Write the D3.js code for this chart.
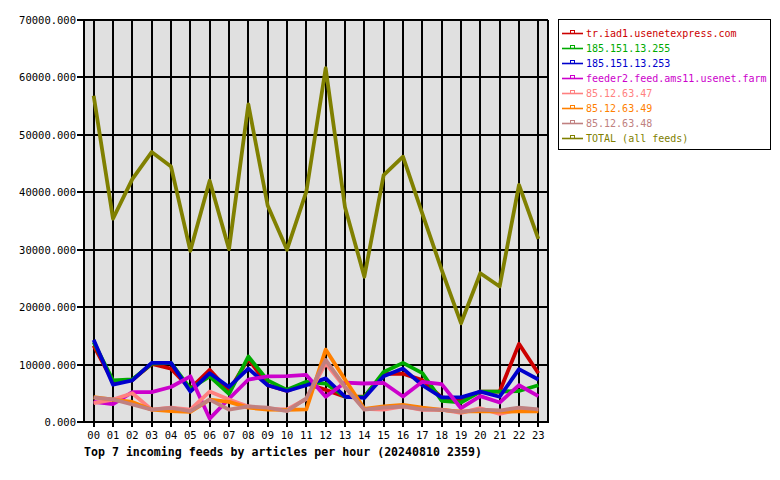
<!DOCTYPE html>
<html><head><meta charset="utf-8">
<script src="https://cdn.jsdelivr.net/npm/d3@7"></script>
<style>
body{margin:0;background:#fff;}
svg text{font-family:"DejaVu Sans Mono",monospace;}
</style></head>
<body><svg id="c" width="780" height="480"></svg>
<script>
const hours = ["00","01","02","03","04","05","06","07","08","09","10","11","12","13","14","15","16","17","18","19","20","21","22","23"];
const yTicks = [0,10000,20000,30000,40000,50000,60000,70000];
const seriesNames = ["tr.iad1.usenetexpress.com","185.151.13.255","185.151.13.253","feeder2.feed.ams11.usenet.farm","85.12.63.47","85.12.63.49","85.12.63.48","TOTAL (all feeds)"];
const seriesColors = ["#cc0000","#00aa00","#0000cc","#cc00cc","#ff8080","#ff8000","#c08080","#808000"];
const trIad1   = [13300,7000,7300,10100,9300,5800,9100,5400,11000,6400,5400,6700,5600,4400,4400,8400,8400,7300,4300,3800,5300,5300,13600,8500];
const n255     = [13900,7250,7400,10150,10300,5800,7950,4900,11400,7250,5600,7000,6700,4400,4350,8700,10300,8500,3700,3400,5300,5300,5400,6400];
const n253     = [14300,6500,7250,10300,10300,5300,8500,6100,9300,6400,5400,6400,7600,4400,4200,7950,9300,6400,4300,4300,5300,4400,9200,7400];
const feeder2  = [3500,3100,5200,5200,6100,7950,600,4050,7400,7950,8000,8200,4400,6850,6700,6800,4450,7000,6600,2400,4500,3400,6400,4500];
const n47      = [3300,3900,5000,2150,2500,2150,5300,3900,2700,2300,2200,4000,10200,6000,2300,2150,2700,2100,2150,1600,2400,1400,2200,2100];
const n49      = [4350,3900,3500,2150,1900,1750,3900,3500,2500,2150,2100,2200,12600,7400,2300,2700,3000,2500,2100,1800,1900,1800,1850,1850];
const n48      = [4250,3950,3050,2150,2450,1900,3900,2150,2700,2500,1900,4100,10800,6100,2150,2500,2700,2200,2100,1750,2150,2000,2500,2200];
const total    = [56800,35400,42300,47000,44500,29800,42000,30100,55300,37700,30000,40100,61600,37400,25300,43000,46200,36300,26500,17200,25900,23600,41300,31900];
const seriesValues = [trIad1,n255,n253,feeder2,n47,n49,n48,total];
const titleText = "Top 7 incoming feeds by articles per hour (20240810 2359)";

const svg = d3.select("#c");
const L = 84, R = 548, T = 20, B = 422;
const x = d3.scalePoint().domain(hours).range([L, R]).padding(0.5);
const y = d3.scaleLinear().domain([0,70000]).range([B, T]);

svg.append("rect").attr("x",L).attr("y",T).attr("width",R-L).attr("height",B-T).attr("fill","#e0e0e0");

// grid
const g = svg.append("g").attr("shape-rendering","crispEdges");
g.selectAll(".hg").data(yTicks).join("line")
  .attr("x1",L-7).attr("x2",R).attr("y1",d=>Math.round(y(d))).attr("y2",d=>Math.round(y(d)))
  .attr("stroke","#000").attr("stroke-width",2);
g.selectAll(".vg").data(hours).join("line")
  .attr("x1",d=>Math.round(x(d))).attr("x2",d=>Math.round(x(d))).attr("y1",T).attr("y2",B+5)
  .attr("stroke","#000").attr("stroke-width",2);
g.append("line").attr("x1",L).attr("x2",L).attr("y1",T).attr("y2",B+1).attr("stroke","#000").attr("stroke-width",2);
g.append("line").attr("x1",R).attr("x2",R).attr("y1",T).attr("y2",B+1).attr("stroke","#000").attr("stroke-width",2);

// axis labels
svg.selectAll(".yl").data(yTicks).join("text")
  .attr("x",76).attr("y",d=>y(d)+4).attr("text-anchor","end")
  .attr("font-size","10.5px").attr("fill","#000").text(d=>d3.format(".3f")(d));
svg.selectAll(".xl").data(hours).join("text")
  .attr("x",d=>x(d)).attr("y",439).attr("text-anchor","middle")
  .attr("font-size","10.5px").attr("fill","#000").text(d=>d);

// lines
const line = d3.line().x((d,i)=>x(hours[i])).y(d=>y(d));
svg.selectAll(".ln").data(seriesValues).join("path")
  .attr("d",d=>line(d)).attr("fill","none")
  .attr("stroke",(d,i)=>seriesColors[i]).attr("stroke-width",3.8)
  .attr("stroke-linejoin","round");

// title
svg.append("text").attr("x",84).attr("y",456).attr("font-size","11.6px").attr("font-weight","bold")
  .attr("fill","#000").text(titleText);

// legend
const lg = svg.append("g");
lg.append("rect").attr("x",558.5).attr("y",19.5).attr("width",212).attr("height",130)
  .attr("fill","#fff").attr("stroke","#000").attr("stroke-width",1);
const rows = lg.selectAll(".row").data(seriesNames).join("g")
  .attr("transform",(d,i)=>`translate(0,${33+15*i})`);
rows.append("line").attr("x1",562).attr("x2",583).attr("y1",0.5).attr("y2",0.5)
  .attr("stroke",(d,i)=>seriesColors[i]).attr("stroke-width",1.6);
rows.append("rect").attr("x",570.5).attr("y",-2.5).attr("width",4).attr("height",3)
  .attr("fill","none").attr("stroke",(d,i)=>seriesColors[i]).attr("stroke-width",1);
rows.append("text").attr("x",586).attr("y",4).attr("font-size","10px")
  .attr("fill",(d,i)=>seriesColors[i]).text(d=>d);
</script></body></html>
